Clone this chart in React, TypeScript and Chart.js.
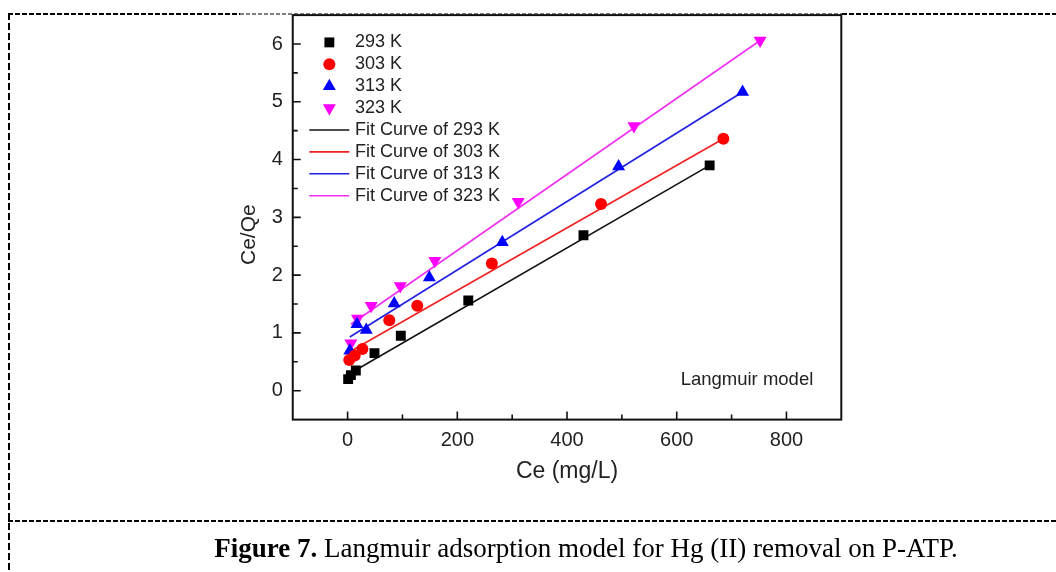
import React, { useEffect, useRef } from "react";
import { Chart, registerables } from "chart.js";

Chart.register(...registerables);

// ---------- data ----------
const SERIES_LABELS = ["293 K", "303 K", "313 K", "323 K"];
const FIT_LABELS = ["Fit Curve of 293 K", "Fit Curve of 303 K", "Fit Curve of 313 K", "Fit Curve of 323 K"];
const COLORS = ["#000000", "#ff0000", "#0000ff", "#ff00ff"];
const LINE_COLORS = ["#111111", "#f02020", "#2020e0", "#f030f0"];

const CE_293 = [1, 6, 15, 49, 97, 220, 430, 660];
const QE_293 = [0.2, 0.27, 0.35, 0.65, 0.95, 1.56, 2.69, 3.9];
const CE_303 = [3, 13, 27, 76, 127, 263, 462, 685];
const QE_303 = [0.53, 0.61, 0.72, 1.22, 1.47, 2.2, 3.23, 4.36];
const CE_313 = [4, 17, 34, 85, 149, 282, 494, 720];
const QE_313 = [0.69, 1.15, 1.05, 1.51, 1.96, 2.57, 3.88, 5.17];
const CE_323 = [6, 18, 43, 96, 159, 311, 522, 752];
const QE_323 = [0.82, 1.25, 1.47, 1.81, 2.25, 3.27, 4.58, 6.06];

// fit line end points
const FIT_293_X = [1, 660];
const FIT_293_Y = [0.28, 3.9];
const FIT_303_X = [3, 685];
const FIT_303_Y = [0.67, 4.36];
const FIT_313_X = [4, 720];
const FIT_313_Y = [0.93, 5.17];
const FIT_323_X = [6, 752];
const FIT_323_Y = [1.15, 6.06];

const X_TICKS = [0, 200, 400, 600, 800];
const X_MINOR = [100, 300, 500, 700];
const Y_TICKS = [0, 1, 2, 3, 4, 5, 6];
const Y_MINOR = [0.5, 1.5, 2.5, 3.5, 4.5, 5.5];

const X_TITLE = "Ce (mg/L)";
const Y_TITLE = "Ce/Qe";
const NOTE = "Langmuir model";
const CAPTION_BOLD = "Figure 7.";
const CAPTION_REST = " Langmuir adsorption model for Hg (II) removal on P-ATP.";

const SANS = "'Liberation Sans', Arial, Helvetica, sans-serif";

const POINT_STYLES = ["rect", "circle", "triangle", "triangle"];
const POINT_ROT = [0, 0, 0, 180];
const POINT_R = [7, 6, 7.5, 7.5];

function toXY(xs: number[], ys: number[]) {
  return xs.map((x, i) => ({ x, y: ys[i] }));
}

function drawMarker(ctx: CanvasRenderingContext2D, style: string, x: number, y: number, r: number, rot: number, color: string) {
  ctx.save();
  ctx.fillStyle = color;
  ctx.beginPath();
  if (style === "rect") {
    const s = Math.SQRT1_2 * r;
    ctx.rect(x - s, y - s, 2 * s, 2 * s);
  } else if (style === "circle") {
    ctx.arc(x, y, r, 0, Math.PI * 2);
  } else {
    let rad = (rot * Math.PI) / 180;
    ctx.moveTo(x + Math.sin(rad) * r, y - Math.cos(rad) * r);
    rad += (2 * Math.PI) / 3;
    ctx.lineTo(x + Math.sin(rad) * r, y - Math.cos(rad) * r);
    rad += (2 * Math.PI) / 3;
    ctx.lineTo(x + Math.sin(rad) * r, y - Math.cos(rad) * r);
    ctx.closePath();
  }
  ctx.fill();
  ctx.restore();
}

const decorPlugin = {
  id: "decor",
  afterDraw(chart: any) {
    const { ctx, chartArea: a, scales } = chart;
    const xs = scales.x;
    const ys = scales.y;
    ctx.save();
    // frame
    ctx.strokeStyle = "#111";
    ctx.lineWidth = 2;
    ctx.strokeRect(a.left, a.top, a.right - a.left, a.bottom - a.top);
    // inward ticks
    ctx.lineWidth = 1.6;
    ctx.beginPath();
    X_TICKS.forEach((v) => {
      const p = xs.getPixelForValue(v);
      ctx.moveTo(p, a.bottom);
      ctx.lineTo(p, a.bottom - 8);
    });
    X_MINOR.forEach((v) => {
      const p = xs.getPixelForValue(v);
      ctx.moveTo(p, a.bottom);
      ctx.lineTo(p, a.bottom - 5);
    });
    Y_TICKS.forEach((v) => {
      const p = ys.getPixelForValue(v);
      ctx.moveTo(a.left, p);
      ctx.lineTo(a.left + 8, p);
    });
    Y_MINOR.forEach((v) => {
      const p = ys.getPixelForValue(v);
      ctx.moveTo(a.left, p);
      ctx.lineTo(a.left + 5, p);
    });
    ctx.stroke();

    // y axis title
    ctx.save();
    ctx.translate(a.left - 44, ys.getPixelForValue(2.7));
    ctx.rotate(-Math.PI / 2);
    ctx.font = "21px " + SANS;
    ctx.fillStyle = "#222";
    ctx.textAlign = "center";
    ctx.textBaseline = "middle";
    ctx.fillText(Y_TITLE, 0, 0);
    ctx.restore();

    // legend
    const lx = a.left + 36.6;
    const tx = a.left + 62.3;
    const y0 = a.top + 27.3;
    const step = 21.9;
    ctx.font = "18px " + SANS;
    ctx.fillStyle = "#222";
    ctx.textBaseline = "middle";
    ctx.textAlign = "left";
    SERIES_LABELS.forEach((lab, i) => {
      const yy = y0 + i * step;
      drawMarker(ctx, POINT_STYLES[i], lx, yy, POINT_R[i], POINT_ROT[i], COLORS[i]);
      ctx.fillStyle = "#222";
      ctx.fillText(lab, tx, yy);
    });
    FIT_LABELS.forEach((lab, i) => {
      const yy = y0 + (i + 4) * step;
      ctx.strokeStyle = LINE_COLORS[i];
      ctx.lineWidth = 1.6;
      ctx.beginPath();
      ctx.moveTo(a.left + 16.6, yy);
      ctx.lineTo(a.left + 56.6, yy);
      ctx.stroke();
      ctx.fillStyle = "#222";
      ctx.fillText(lab, tx, yy);
    });

    // note
    ctx.font = "18.5px " + SANS;
    ctx.textAlign = "right";
    ctx.fillText(NOTE, a.right - 28, ys.getPixelForValue(0.19));
    ctx.restore();
  },
};

function ChartCanvas() {
  const ref = useRef<HTMLCanvasElement | null>(null);
  useEffect(() => {
    if (!ref.current) return;
    const scatterSets = [
      toXY(CE_293, QE_293),
      toXY(CE_303, QE_303),
      toXY(CE_313, QE_313),
      toXY(CE_323, QE_323),
    ].map((d, i) => ({
      label: SERIES_LABELS[i],
      data: d,
      showLine: false,
      pointStyle: POINT_STYLES[i],
      pointRotation: POINT_ROT[i],
      pointRadius: POINT_R[i],
      pointBackgroundColor: COLORS[i],
      pointBorderColor: COLORS[i],
      pointBorderWidth: 0,
      backgroundColor: COLORS[i],
      borderColor: COLORS[i],
    }));
    const lineSets = [
      toXY(FIT_293_X, FIT_293_Y),
      toXY(FIT_303_X, FIT_303_Y),
      toXY(FIT_313_X, FIT_313_Y),
      toXY(FIT_323_X, FIT_323_Y),
    ].map((d, i) => ({
      label: FIT_LABELS[i],
      data: d,
      showLine: true,
      pointRadius: 0,
      borderColor: LINE_COLORS[i],
      borderWidth: 1.6,
      backgroundColor: LINE_COLORS[i],
    }));

    const chart = new Chart(ref.current, {
      type: "scatter",
      data: { datasets: [...scatterSets, ...lineSets] as any },
      options: {
        responsive: false,
        animation: false,
        devicePixelRatio: 1,
        layout: { autoPadding: false, padding: { left: 200, right: 214.7, top: 15.1, bottom: 72.4 } },
        plugins: { legend: { display: false }, tooltip: { enabled: false } },
        scales: {
          x: {
            type: "linear",
            min: -100,
            max: 900,
            grid: { display: false, drawTicks: false },
            border: { display: false },
            afterBuildTicks: (s: any) => {
              s.ticks = X_TICKS.map((v) => ({ value: v }));
            },
            afterFit: (s: any) => {
              s.height = 80;
              s.paddingLeft = 0;
              s.paddingRight = 0;
            },
            ticks: {
              padding: 9,
              color: "#222",
              font: { family: SANS, size: 20 },
              maxRotation: 0,
            },
            title: {
              display: true,
              text: X_TITLE,
              color: "#222",
              font: { family: SANS, size: 23 },
              padding: { top: 0, bottom: 14 },
            },
          },
          y: {
            type: "linear",
            min: -0.5,
            max: 6.5,
            grid: { display: false, drawTicks: false },
            border: { display: false },
            afterBuildTicks: (s: any) => {
              s.ticks = Y_TICKS.map((v) => ({ value: v }));
            },
            afterFit: (s: any) => {
              s.width = 92.75;
              s.paddingTop = 0;
              s.paddingBottom = 0;
            },
            ticks: {
              padding: 10,
              color: "#222",
              font: { family: SANS, size: 20 },
            },
            title: { display: false },
          },
        },
      },
      plugins: [decorPlugin],
    } as any);
    return () => chart.destroy();
  }, []);
  return (
    <canvas
      ref={ref}
      width={1056}
      height={572}
      style={{ position: "absolute", left: 0, top: 0, width: 1056, height: 572 }}
    />
  );
}

export default function App() {
  return (
    <div style={{ position: "absolute", left: 0, top: 0, width: 1056, height: 572, overflow: "hidden", background: "#fff" }}>
      <svg width={1056} height={572} style={{ position: "absolute", left: 0, top: 0 }}>
        <line x1={8} y1={14} x2={240} y2={14} stroke="#000" strokeWidth={2} strokeDasharray="5 2" />
        <line x1={240} y1={14} x2={842} y2={14} stroke="#000" strokeWidth={1} strokeDasharray="4 2" />
        <line x1={842} y1={14} x2={1056} y2={14} stroke="#000" strokeWidth={2} strokeDasharray="5 2" />
        <line x1={9} y1={13} x2={9} y2={572} stroke="#000" strokeWidth={2} strokeDasharray="7 3" />
        <line x1={8} y1={521} x2={1056} y2={521} stroke="#000" strokeWidth={2} strokeDasharray="5 2" />
      </svg>
      <ChartCanvas />
      <div
        style={{
          position: "absolute",
          left: 0,
          width: 1172,
          top: 532,
          textAlign: "center",
          fontFamily: "'Liberation Serif', 'Times New Roman', serif",
          fontSize: 27,
          lineHeight: "32px",
          color: "#000",
          whiteSpace: "nowrap",
        }}
      >
        <b>{CAPTION_BOLD}</b>
        {CAPTION_REST}
      </div>
    </div>
  );
}
